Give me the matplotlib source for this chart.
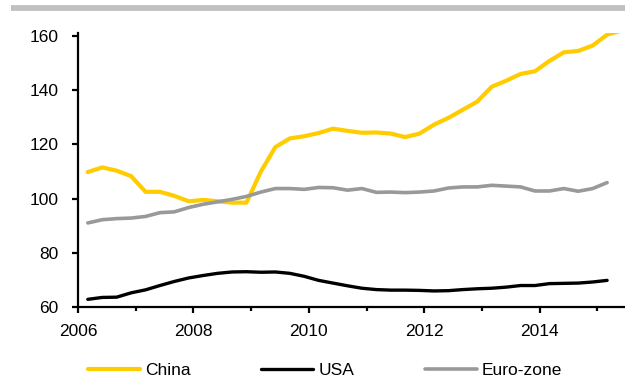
import numpy as np
import matplotlib
matplotlib.use("Agg")
import matplotlib.pyplot as plt
from matplotlib.lines import Line2D
from matplotlib.ticker import MultipleLocator

plt.rcParams["font.family"] = ["Liberation Sans", "DejaVu Sans"]

# quarterly series, first point early 2006
start = 2006.17
step = 0.25

china = [109.8, 111.5, 110.3, 108.3, 102.5, 102.5, 101.0, 99.0, 99.5, 99.0,
         98.5, 98.5, 110.0, 119.0, 122.2, 123.0, 124.2, 125.8, 125.0, 124.3,
         124.4, 124.0, 122.7, 124.0, 127.3, 129.8, 132.8, 135.8, 141.3, 143.5,
         146.0, 147.0, 150.8, 154.0, 154.5, 156.5, 160.5, 162.0]
usa = [62.8, 63.5, 63.6, 65.2, 66.3, 67.9, 69.4, 70.7, 71.6, 72.4,
       72.9, 73.0, 72.8, 72.9, 72.4, 71.3, 69.8, 68.8, 67.8, 66.9,
       66.4, 66.2, 66.2, 66.1, 65.9, 66.0, 66.4, 66.7, 66.9, 67.3,
       67.9, 67.9, 68.6, 68.7, 68.8, 69.2, 69.8]
euro = [91.0, 92.2, 92.6, 92.8, 93.4, 94.8, 95.1, 96.7, 97.9, 98.8,
        99.7, 100.8, 102.4, 103.7, 103.7, 103.4, 104.1, 104.0, 103.1, 103.7,
        102.3, 102.4, 102.2, 102.4, 102.8, 103.9, 104.3, 104.3, 104.9, 104.6,
        104.3, 102.8, 102.8, 103.7, 102.7, 103.7, 105.9]

series = [("China", china, "#FFCC00", 3.0),
          ("USA", usa, "#000000", 2.4),
          ("Euro-zone", euro, "#999999", 2.6)]

fig = plt.figure(figsize=(6.25, 3.89), dpi=100)
ax = fig.add_axes([0.1248, 0.211, 0.8752, 0.704])

for name, vals, col, lw in series:
    t = start + step * np.arange(len(vals))
    ax.plot(t, vals, color=col, lw=lw, label=name, solid_capstyle="round",
            solid_joinstyle="round")

ax.set_xlim(2006, 2015.48)
ax.set_ylim(60, 161.1)
ax.set_xticks([2006, 2008, 2010, 2012, 2014])
ax.xaxis.set_minor_locator(MultipleLocator(1))
ax.set_yticks([60, 80, 100, 120, 140, 160])

for side in ["top", "right"]:
    ax.spines[side].set_visible(False)
for side in ["left", "bottom"]:
    ax.spines[side].set_linewidth(1.6)

ax.tick_params(axis="both", which="major", direction="out", length=4.5,
               width=1.6, labelsize=12.5)
ax.tick_params(axis="x", which="major", pad=8)
ax.tick_params(axis="y", which="major", pad=9.5)
ax.tick_params(axis="x", which="minor", direction="out", length=3, width=1.6)

leg = fig.legend(*ax.get_legend_handles_labels(), loc="center left",
                 bbox_to_anchor=(88 / 625, 0.047), ncol=3, frameon=False,
                 fontsize=12.5, handlelength=3.0, handletextpad=0.3,
                 columnspacing=4.05, borderpad=0, borderaxespad=0)

# grey rule along the top
fig.add_artist(Line2D([0.018, 1.0], [0.979, 0.979], color="#C0C0C0", lw=4.2,
                      transform=fig.transFigure, solid_capstyle="butt"))

fig.savefig("out.png", dpi=100)
